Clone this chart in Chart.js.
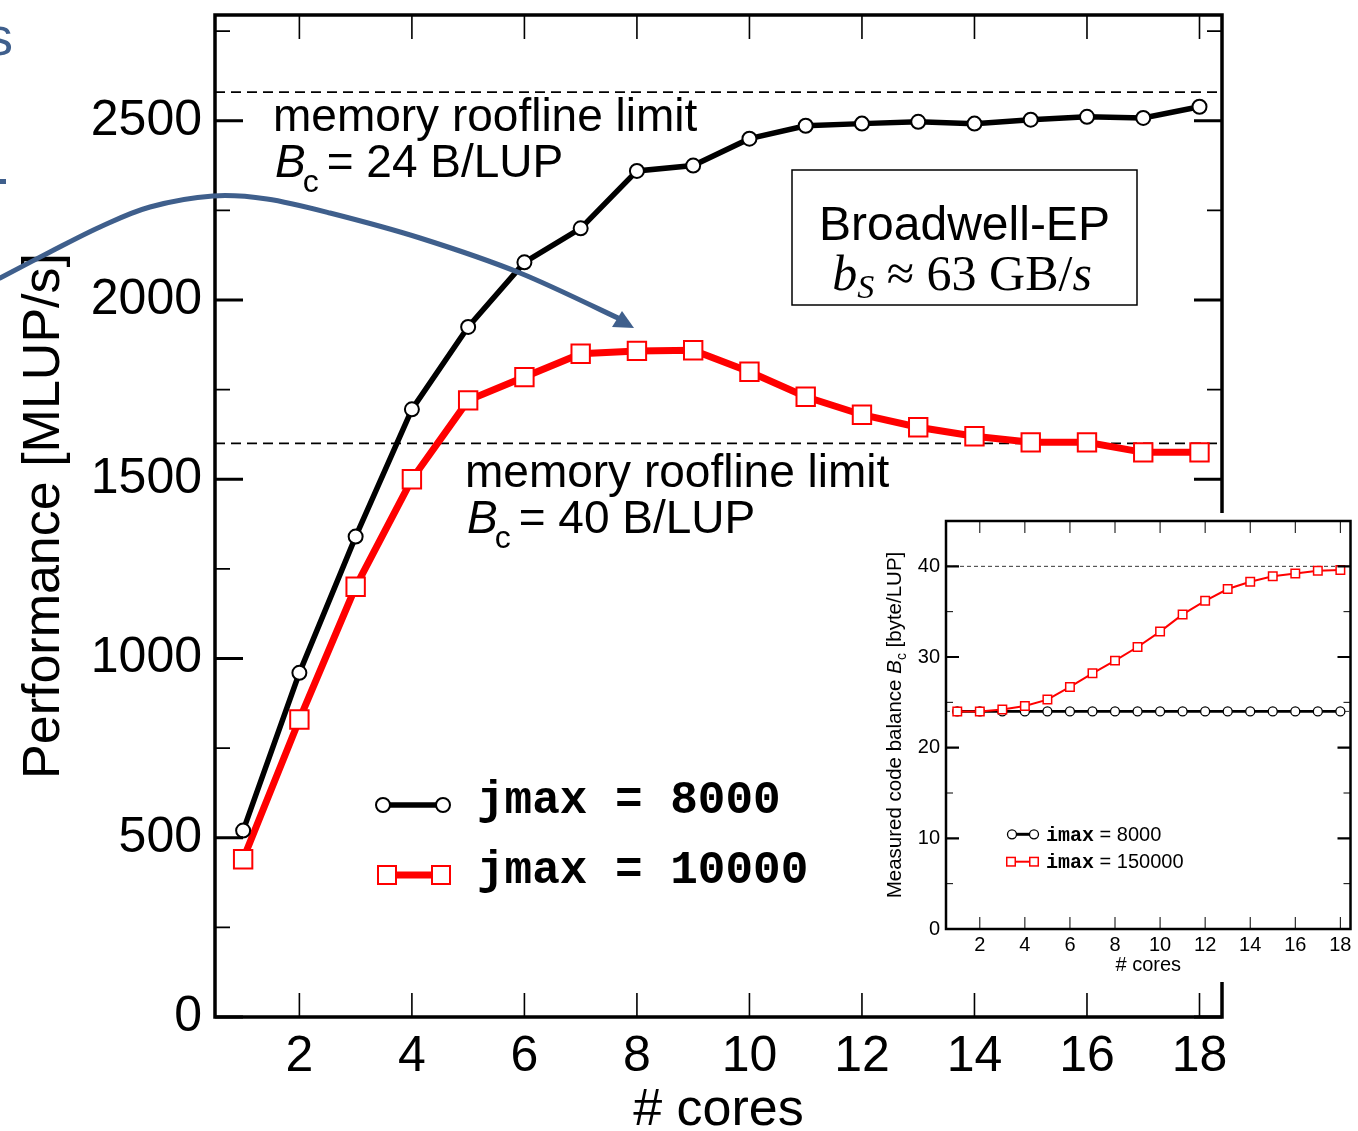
<!DOCTYPE html>
<html>
<head>
<meta charset="utf-8">
<script src="https://cdn.jsdelivr.net/npm/chart.js@4.4.1/dist/chart.umd.min.js"></script>
<style>
html, body { margin: 0; padding: 0; background: #fff; }
#wrap { position: relative; width: 1358px; height: 1131px; overflow: hidden; }
#main { position: absolute; left: 0; top: 0; }
#inset { position: absolute; left: 872px; top: 513px; background: #fff; }
</style>
</head>
<body>
<div id="wrap">
  <canvas id="main" width="1358" height="1131"></canvas>
  <canvas id="inset" width="486" height="469"></canvas>
</div>
<script>
// ---- data ----
var cores = [1, 2, 3, 4, 5, 6, 7, 8, 9, 10, 11, 12, 13, 14, 15, 16, 17, 18];
var perfJmax8000 = [520, 960, 1340, 1695, 1925, 2105, 2200, 2360, 2375, 2450, 2486, 2492, 2497, 2492, 2503, 2511, 2508, 2539];
var perfJmax10000 = [440, 830, 1200, 1500, 1720, 1785, 1850, 1858, 1860, 1800, 1730, 1680, 1645, 1620, 1603, 1603, 1575, 1575];
var rooflineB24 = 2580;
var rooflineB40 = 1600;
var coreTicks = [2, 4, 6, 8, 10, 12, 14, 16, 18];
var perfTicks = [0, 500, 1000, 1500, 2000, 2500];
var perfMinorTicks = [250, 750, 1250, 1750, 2250, 2750];

// inset: measured code balance
var balanceImax8000 = [24, 24, 24, 24, 24, 24, 24, 24, 24, 24, 24, 24, 24, 24, 24, 24, 24, 24];
var balanceImax150000 = [24.0, 24.0, 24.2, 24.6, 25.3, 26.7, 28.2, 29.6, 31.1, 32.8, 34.7, 36.2, 37.5, 38.3, 38.9, 39.2, 39.5, 39.6];
var balanceTicks = [0, 10, 20, 30, 40];
var balanceMinorTicks = [5, 15, 25, 35];
var balanceLimits = [24, 40];

var SANS = "'Liberation Sans', Arial, Helvetica, sans-serif";
var SERIF = "'Liberation Serif', 'Times New Roman', serif";
var MONO = "'Liberation Mono', 'Courier New', monospace";
var BLUE = '#3f5f8c';
var RED = '#ff0000';

Chart.defaults.font.family = SANS;
Chart.defaults.color = '#000';

function toPoints(xs, ys) {
  return xs.map(function(x, i) { return { x: x, y: ys[i] }; });
}
function flatLine(x0, x1, y) {
  return [{ x: x0, y: y }, { x: x1, y: y }];
}
function fixedTicks(list) {
  return function(s) { s.ticks = list.map(function(v) { return { value: v }; }); };
}
function plainLabel(v) { return String(v); }
// без лишних отступов под крайние подписи
function fixSize(w, h) {
  return function(s) {
    if (w !== null) s.width = w;
    if (h !== null) s.height = h;
    s.paddingTop = 0; s.paddingBottom = 0; s.paddingLeft = 0; s.paddingRight = 0;
  };
}

// текст из кусков (курсив, индексы)
function runsWidth(ctx, runs) {
  var w = 0;
  runs.forEach(function(r) { ctx.font = r.font; w += ctx.measureText(r.t).width + (r.gap || 0); });
  return w;
}
function drawRuns(ctx, runs, x, y) {
  runs.forEach(function(r) {
    ctx.font = r.font;
    ctx.fillText(r.t, x, y + (r.dy || 0));
    x += ctx.measureText(r.t).width + (r.gap || 0);
  });
}

// рамка и засечки внутрь
function drawFrame(chart, o) {
  var ctx = chart.ctx, a = chart.chartArea;
  var xs = chart.scales.x, ys = chart.scales.y;
  ctx.save();
  ctx.strokeStyle = '#000';
  function yTicks(vals, len, w) {
    ctx.lineWidth = w;
    ctx.beginPath();
    vals.forEach(function(v) {
      var p = ys.getPixelForValue(v);
      ctx.moveTo(a.left, p); ctx.lineTo(a.left + len, p);
      ctx.moveTo(a.right, p); ctx.lineTo(a.right - len, p);
    });
    ctx.stroke();
  }
  function xTicks(vals, len, w) {
    ctx.lineWidth = w;
    ctx.beginPath();
    vals.forEach(function(v) {
      var p = xs.getPixelForValue(v);
      ctx.moveTo(p, a.bottom); ctx.lineTo(p, a.bottom - len);
      ctx.moveTo(p, a.top); ctx.lineTo(p, a.top + len);
    });
    ctx.stroke();
  }
  yTicks(o.yMajor, o.yMajorLen, o.yMajorW);
  yTicks(o.yMinor, o.yMinorLen, o.yMinorW);
  xTicks(o.xMajor, o.xMajorLen, o.xMajorW);
  ctx.lineWidth = o.frameW;
  ctx.strokeRect(a.left, a.top, a.right - a.left, a.bottom - a.top);
  ctx.restore();
}

function legendCircle(ctx, x, y, r, lw) {
  ctx.beginPath();
  ctx.arc(x, y, r, 0, Math.PI * 2);
  ctx.fillStyle = '#fff'; ctx.fill();
  ctx.lineWidth = lw; ctx.strokeStyle = '#000'; ctx.stroke();
}
function legendSquare(ctx, x, y, s, lw) {
  ctx.fillStyle = '#fff';
  ctx.fillRect(x - s / 2, y - s / 2, s, s);
  ctx.lineWidth = lw; ctx.strokeStyle = RED;
  ctx.strokeRect(x - s / 2, y - s / 2, s, s);
}

// ---------- основной график ----------
var mainExtras = {
  id: 'mainExtras',
  afterDraw: function(chart) {
    var ctx = chart.ctx;
    drawFrame(chart, {
      frameW: 3.5,
      yMajor: perfTicks, yMajorLen: 28, yMajorW: 3,
      yMinor: perfMinorTicks, yMinorLen: 15, yMinorW: 1.6,
      xMajor: coreTicks, xMajorLen: 24, xMajorW: 1.6
    });

    ctx.save();
    ctx.fillStyle = '#000';
    ctx.textBaseline = 'alphabetic';
    ctx.textAlign = 'left';

    // подписи линий roofline
    ctx.font = '46px ' + SANS;
    ctx.fillText('memory roofline limit', 273, 131);
    drawRuns(ctx, [
      { t: 'B', font: 'italic 46px ' + SANS, gap: -3 },
      { t: 'c', font: '32px ' + SANS, dy: 15, gap: 8 },
      { t: '= 24 B/LUP', font: '46px ' + SANS }
    ], 275, 177);

    ctx.font = '46px ' + SANS;
    ctx.fillText('memory roofline limit', 465, 487);
    drawRuns(ctx, [
      { t: 'B', font: 'italic 46px ' + SANS, gap: -3 },
      { t: 'c', font: '32px ' + SANS, dy: 15, gap: 8 },
      { t: '= 40 B/LUP', font: '46px ' + SANS }
    ], 467, 533);

    // рамка Broadwell-EP
    ctx.fillStyle = '#fff';
    ctx.fillRect(792, 170, 345, 135);
    ctx.lineWidth = 1.5; ctx.strokeStyle = '#000';
    ctx.strokeRect(792, 170, 345, 135);
    ctx.fillStyle = '#000';
    ctx.textAlign = 'center';
    ctx.font = '48px ' + SANS;
    ctx.fillText('Broadwell-EP', 964.5, 240);
    ctx.textAlign = 'left';
    var bwRuns = [
      { t: 'b', font: 'italic 50px ' + SERIF },
      { t: 'S', font: 'italic 34px ' + SERIF, dy: 8 },
      { t: ' \u2248 63 GB/', font: '50px ' + SERIF },
      { t: 's', font: 'italic 50px ' + SERIF }
    ];
    drawRuns(ctx, bwRuns, 962 - runsWidth(ctx, bwRuns) / 2, 290);

    // легенда
    var ly1 = 805, ly2 = 875;
    ctx.strokeStyle = '#000'; ctx.lineWidth = 5.5;
    ctx.beginPath(); ctx.moveTo(383, ly1); ctx.lineTo(443, ly1); ctx.stroke();
    legendCircle(ctx, 383, ly1, 7, 2);
    legendCircle(ctx, 443, ly1, 7, 2);
    ctx.strokeStyle = RED; ctx.lineWidth = 7;
    ctx.beginPath(); ctx.moveTo(387, ly2); ctx.lineTo(441, ly2); ctx.stroke();
    legendSquare(ctx, 387, ly2, 18, 2);
    legendSquare(ctx, 441, ly2, 18, 2);
    ctx.fillStyle = '#000';
    ctx.font = 'bold 46px ' + MONO;
    ctx.fillText('jmax = 8000', 477, 813);
    ctx.fillText('jmax = 10000', 477, 883);

    // синяя стрелка
    var pts = [[0, 278], [50, 252], [100, 227], [150, 207], [213, 196], [267, 199], [330, 213], [420, 238], [520, 273], [620, 319]];
    ctx.strokeStyle = BLUE; ctx.lineWidth = 5; ctx.lineCap = 'round'; ctx.lineJoin = 'round';
    ctx.beginPath();
    ctx.moveTo(pts[0][0], pts[0][1]);
    for (var i = 0; i < pts.length - 1; i++) {
      var p0 = pts[Math.max(i - 1, 0)], p1 = pts[i], p2 = pts[i + 1], p3 = pts[Math.min(i + 2, pts.length - 1)];
      ctx.bezierCurveTo(p1[0] + (p2[0] - p0[0]) / 6, p1[1] + (p2[1] - p0[1]) / 6,
                        p2[0] - (p3[0] - p1[0]) / 6, p2[1] - (p3[1] - p1[1]) / 6,
                        p2[0], p2[1]);
    }
    ctx.stroke();
    ctx.fillStyle = BLUE;
    ctx.beginPath();
    ctx.moveTo(612, 327); ctx.lineTo(622, 311); ctx.lineTo(634, 328);
    ctx.closePath(); ctx.fill();

    // обрезанные куски текста слева
    ctx.font = '54px ' + SANS;
    ctx.fillText('s', -14, 55);
    ctx.fillRect(0, 179, 6, 5);
    ctx.restore();
  }
};

new Chart(document.getElementById('main'), {
  type: 'line',
  data: {
    datasets: [
      {
        label: 'jmax = 8000',
        data: toPoints(cores, perfJmax8000),
        borderColor: '#000', borderWidth: 5.5,
        pointStyle: 'circle', pointRadius: 7,
        pointBackgroundColor: '#fff', pointBorderColor: '#000', pointBorderWidth: 2
      },
      {
        label: 'jmax = 10000',
        data: toPoints(cores, perfJmax10000),
        borderColor: RED, borderWidth: 7,
        pointStyle: 'rect', pointRadius: 13,
        pointBackgroundColor: '#fff', pointBorderColor: RED, pointBorderWidth: 2
      },
      {
        label: 'B24',
        data: flatLine(0.5, 18.4, rooflineB24),
        borderColor: '#000', borderWidth: 1.6, borderDash: [10, 6], pointRadius: 0
      },
      {
        label: 'B40',
        data: flatLine(0.5, 18.4, rooflineB40),
        borderColor: '#000', borderWidth: 1.6, borderDash: [10, 6], pointRadius: 0
      }
    ]
  },
  options: {
    responsive: false,
    animation: false,
    layout: { padding: { top: 12, right: 136, left: 0, bottom: 0 } },
    plugins: { legend: { display: false }, tooltip: { enabled: false } },
    scales: {
      x: {
        type: 'linear', min: 0.5, max: 18.4,
        grid: { display: false, drawTicks: false },
        border: { display: false },
        afterBuildTicks: fixedTicks(coreTicks),
        afterFit: fixSize(null, 114),
        ticks: { font: { size: 50 }, color: '#000', padding: 10, maxRotation: 0, callback: plainLabel },
        title: { display: true, text: '# cores', color: '#000', font: { size: 52, lineHeight: 0.8 }, padding: 0 }
      },
      y: {
        type: 'linear', min: 0, max: 2795,
        grid: { display: false, drawTicks: false },
        border: { display: false },
        afterBuildTicks: fixedTicks(perfTicks),
        afterFit: fixSize(215, null),
        ticks: { font: { size: 50 }, color: '#000', padding: 13, callback: plainLabel },
        title: { display: true, text: 'Performance [MLUP/s]', color: '#000', font: { size: 52, lineHeight: 1 }, padding: { top: 19, bottom: 0 } }
      }
    }
  },
  plugins: [mainExtras]
});

// ---------- вставка: code balance ----------
var insetExtras = {
  id: 'insetExtras',
  beforeDraw: function(chart) {
    var ctx = chart.ctx;
    ctx.save();
    ctx.fillStyle = '#fff';
    ctx.fillRect(0, 0, chart.width, chart.height);
    ctx.restore();
  },
  afterDraw: function(chart) {
    var ctx = chart.ctx;
    drawFrame(chart, {
      frameW: 2.5,
      yMajor: balanceTicks, yMajorLen: 13, yMajorW: 2.2,
      yMinor: balanceMinorTicks, yMinorLen: 7, yMinorW: 1,
      xMajor: coreTicks, xMajorLen: 12, xMajorW: 1
    });
    ctx.save();
    ctx.fillStyle = '#000';
    ctx.textBaseline = 'alphabetic';
    ctx.textAlign = 'left';

    // подпись оси Y
    var titleRuns = [
      { t: 'Measured code balance ', font: '20.5px ' + SANS },
      { t: 'B', font: 'italic 20.5px ' + SANS, gap: 0 },
      { t: 'c', font: '14px ' + SANS, dy: 5 },
      { t: ' [byte/LUP]', font: '20.5px ' + SANS }
    ];
    var cy = (chart.chartArea.top + chart.chartArea.bottom) / 2;
    ctx.translate(29, cy);
    ctx.rotate(-Math.PI / 2);
    drawRuns(ctx, titleRuns, -runsWidth(ctx, titleRuns) / 2, 0);
    ctx.setTransform(1, 0, 0, 1, 0, 0);

    // легенда вставки
    var ly1 = 321.3, ly2 = 348.7;
    ctx.strokeStyle = '#000'; ctx.lineWidth = 3;
    ctx.beginPath(); ctx.moveTo(140, ly1); ctx.lineTo(162, ly1); ctx.stroke();
    legendCircle(ctx, 140, ly1, 4.5, 1.3);
    legendCircle(ctx, 162, ly1, 4.5, 1.3);
    ctx.strokeStyle = RED; ctx.lineWidth = 2;
    ctx.beginPath(); ctx.moveTo(139, ly2); ctx.lineTo(162, ly2); ctx.stroke();
    legendSquare(ctx, 139, ly2, 8.5, 1.5);
    legendSquare(ctx, 162, ly2, 8.5, 1.5);
    ctx.fillStyle = '#000';
    drawRuns(ctx, [
      { t: 'imax', font: 'bold 20px ' + MONO },
      { t: ' = 8000', font: '20px ' + SANS }
    ], 174, 328);
    drawRuns(ctx, [
      { t: 'imax', font: 'bold 20px ' + MONO },
      { t: ' = 150000', font: '20px ' + SANS }
    ], 174, 355);
    ctx.restore();
  }
};

new Chart(document.getElementById('inset'), {
  type: 'line',
  data: {
    datasets: [
      {
        label: 'imax = 8000',
        data: toPoints(cores, balanceImax8000),
        order: 1,
        borderColor: '#000', borderWidth: 2.8,
        pointStyle: 'circle', pointRadius: 4.5,
        pointBackgroundColor: '#fff', pointBorderColor: '#000', pointBorderWidth: 1.3
      },
      {
        label: 'imax = 150000',
        data: toPoints(cores, balanceImax150000),
        order: 0,
        borderColor: RED, borderWidth: 2,
        pointStyle: 'rect', pointRadius: 6,
        pointBackgroundColor: '#fff', pointBorderColor: RED, pointBorderWidth: 1.5
      },
      {
        label: 'limit24',
        data: flatLine(0.5, 18.45, balanceLimits[0]),
        order: 2,
        borderColor: '#000', borderWidth: 0.8, borderDash: [4, 3], pointRadius: 0
      },
      {
        label: 'limit40',
        data: flatLine(0.5, 18.45, balanceLimits[1]),
        order: 2,
        borderColor: '#000', borderWidth: 0.8, borderDash: [4, 3], pointRadius: 0
      }
    ]
  },
  options: {
    responsive: false,
    animation: false,
    layout: { padding: { top: 8, right: 5, left: 0, bottom: 0 } },
    plugins: { legend: { display: false }, tooltip: { enabled: false } },
    scales: {
      x: {
        type: 'linear', min: 0.5, max: 18.45,
        grid: { display: false, drawTicks: false },
        border: { display: false },
        afterBuildTicks: fixedTicks(coreTicks),
        afterFit: fixSize(null, 53),
        ticks: { font: { size: 20 }, color: '#000', padding: 4, maxRotation: 0, callback: plainLabel },
        title: { display: true, text: '# cores', color: '#000', font: { size: 20, lineHeight: 1 }, padding: { top: 0, bottom: 7 } }
      },
      y: {
        type: 'linear', min: 0, max: 45,
        grid: { display: false, drawTicks: false },
        border: { display: false },
        afterBuildTicks: fixedTicks(balanceTicks),
        afterFit: fixSize(74, null),
        ticks: { font: { size: 20 }, color: '#000', padding: 6, callback: plainLabel }
      }
    }
  },
  plugins: [insetExtras]
});
</script>
</body>
</html>
